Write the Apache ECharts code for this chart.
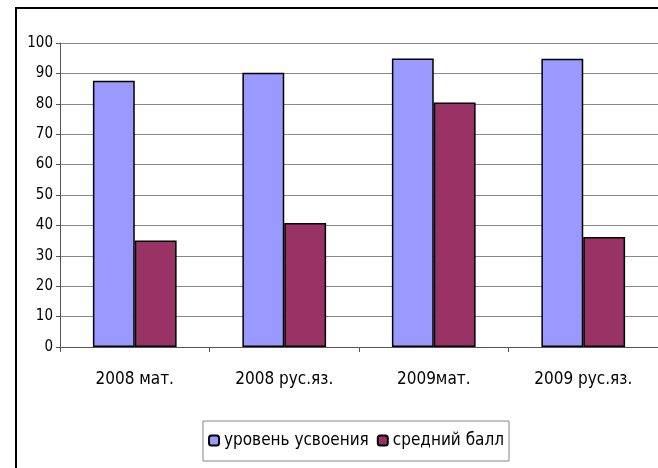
<!DOCTYPE html>
<html>
<head>
<meta charset="utf-8">
<script src="https://cdn.jsdelivr.net/npm/echarts@6/dist/echarts.min.js"></script>
<style>
  html, body { margin: 0; padding: 0; background: #fff; }
  #chart { width: 658px; height: 468px; }
</style>
</head>
<body>
<div id="chart"></div>
<script>
// категории и значения
const categories = ["2008 мат.", "2008 рус.яз.", "2009мат.", "2009 рус.яз."];
const levelValues = [87.6, 90.2, 94.9, 94.8];
const scoreValues = [35, 40.8, 80.4, 36.2];
const seriesNames = ["уровень усвоения", "средний балл"];

const font = '"DejaVu Sans Condensed", "Liberation Sans Narrow", "Liberation Sans", Arial, sans-serif';

const myChart = echarts.init(document.getElementById("chart"));

const option = {
  animation: false,
  backgroundColor: "#fff",
  textStyle: { fontFamily: font },
  graphic: [
    {
      type: "rect",
      shape: { x: 16, y: 8, width: 700, height: 520 },
      style: { fill: "none", stroke: "#000", lineWidth: 2 },
      silent: true,
    },
  ],
  grid: {
    left: 60,
    top: 43,
    right: -2,
    bottom: 121,
    containLabel: false,
  },
  legend: {
    left: 203,
    top: 421,
    itemWidth: 10,
    itemHeight: 10,
    itemGap: 8,
    padding: [11, 5, 12, 5],
    borderColor: "#888",
    borderWidth: 1,
    data: seriesNames,
    textStyle: {
      color: "#000",
      fontSize: 17,
      fontFamily: font,
    },
  },
  xAxis: {
    type: "category",
    data: categories,
    axisLine: { lineStyle: { color: "#555", width: 1 } },
    axisTick: { show: true, length: 5, lineStyle: { color: "#555" } },
    axisLabel: {
      color: "#000",
      fontSize: 17,
      margin: 24,
      fontFamily: font,
    },
  },
  yAxis: {
    type: "value",
    min: 0,
    max: 100,
    interval: 10,
    axisLine: { show: true, lineStyle: { color: "#555" } },
    axisTick: { show: true, length: 4, lineStyle: { color: "#555" } },
    axisLabel: {
      color: "#000",
      fontSize: 15,
      margin: 7,
      fontFamily: font,
    },
    splitLine: { lineStyle: { color: "#888", width: 1 } },
  },
  series: [
    {
      name: seriesNames[0],
      type: "bar",
      data: levelValues,
      barGap: "0%",
      barCategoryGap: "44%",
      itemStyle: { color: "#9999FF", borderColor: "#000", borderWidth: 1.5 },
    },
    {
      name: seriesNames[1],
      type: "bar",
      data: scoreValues,
      itemStyle: { color: "#993366", borderColor: "#000", borderWidth: 1.5 },
    },
  ],
};
myChart.setOption(option);
</script>
</body>
</html>
